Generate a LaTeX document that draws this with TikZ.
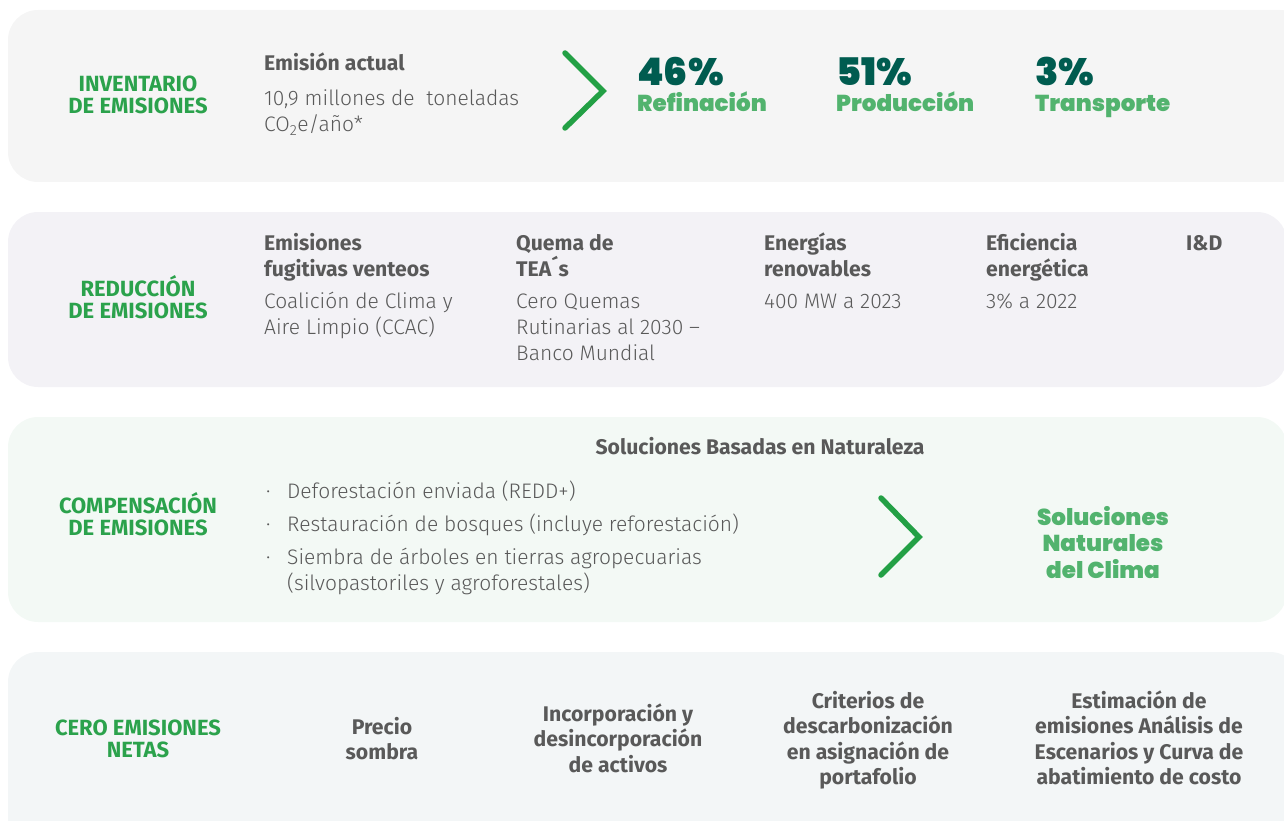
\documentclass[tikz,border=0pt]{standalone}
\usepackage{fontspec}
\setmainfont{Fira Sans}[UprightFont=* Light, BoldFont=* Bold]
\newfontfamily\fbold{Fira Sans}[UprightFont=* Bold]
\newfontfamily\heavy{Poppins}[UprightFont=* Black]
\definecolor{bandA}{HTML}{F5F5F5}
\definecolor{bandB}{HTML}{F3F2F6}
\definecolor{bandC}{HTML}{F3F9F5}
\definecolor{bandD}{HTML}{F3F6F7}
\definecolor{labgreen}{HTML}{2BA24C}
\definecolor{chevgreen}{HTML}{23A045}
\definecolor{darkteal}{HTML}{005C50}
\definecolor{lgreen}{HTML}{52B36E}
\definecolor{txtgray}{HTML}{595959}
\newcommand\mylines[6]{%
  \foreach \t [count=\i] in {#6} {\node[#5] (#1\i) at (#2,{#3+(\i-1)*#4}) {\t};}}
\tikzset{
  band/.style={rounded corners=30pt},
  lab/.style={font=\fbold\fontsize{22}{22}\selectfont, text=labgreen, inner sep=0pt, anchor=base},
  head/.style={font=\bfseries\fontsize{21.2}{21.2}\selectfont, text=txtgray, inner sep=0pt, anchor=base west},
  body/.style={font=\fontsize{21}{21}\selectfont, text=txtgray, inner sep=0pt, anchor=base west},
  chead/.style={font=\bfseries\fontsize{21.2}{21.2}\selectfont, text=txtgray, inner sep=0pt, anchor=base},
  pct/.style={font=\heavy\fontsize{38}{38}\selectfont, text=darkteal, inner sep=0pt, anchor=base west},
  pctlab/.style={font=\heavy\fontsize{23}{23}\selectfont, text=lgreen, inner sep=0pt, anchor=base west},
  snc/.style={font=\heavy\fontsize{23}{23}\selectfont, text=lgreen, inner sep=0pt, anchor=base},
  chev/.style={draw=chevgreen, line width=5.5pt, line cap=round, line join=miter}
}
\begin{document}
\begin{tikzpicture}[x=1pt,y=-1pt]
\useasboundingbox (0,0) rectangle (1284,821);
\clip (0,0) rectangle (1284,821);
% bands
\fill[bandA, band] (8,10) rectangle (1310,182);
\fill[bandB, band] (8,212) rectangle (1287,387);
\fill[bandC, band] (8,417) rectangle (1287,622);
\fill[bandD, band] (8,652) rectangle (1300,860);

% ---- band 1
\mylines{labA}{138}{92}{22}{lab}{INVENTARIO,DE EMISIONES}
\node[head] (emis) at (264,71) {Emisión actual};
\mylines{emisB}{264}{106}{26}{body}{{10,9 millones de~ toneladas},{CO\textsubscript{2}e/año*}}
\coordinate (ca1) at (565,53);
\coordinate (ca2) at (603,91);
\coordinate (ca3) at (565,128);
\draw[chev] (ca1) -- (ca2) -- (ca3);
\node[pct] (p1) at (637,86) {46\%};
\node[pctlab] (p1l) at (637,112) {Refinación};
\node[pct] (p2) at (836,86) {51\%};
\node[pctlab] (p2l) at (836,112) {Producción};
\node[pct] (p3) at (1035,86) {3\%};
\node[pctlab] (p3l) at (1035,112) {Transporte};

% ---- band 2
\mylines{labB}{138}{296}{22}{lab}{REDUCCIÓN,DE EMISIONES}
\mylines{hA}{264}{250}{26}{head}{Emisiones,fugitivas venteos}
\mylines{bA}{264}{308}{26}{body}{Coalición de Clima y,Aire Limpio (CCAC)}
\mylines{hB}{516}{250}{26}{head}{Quema de,TEA´s}
\mylines{bB}{516}{308}{26}{body}{Cero Quemas,Rutinarias al 2030 –,Banco Mundial}
\mylines{hC}{764}{250}{26}{head}{Energías,renovables}
\mylines{bC}{764}{308}{26}{body}{400 MW a 2023}
\mylines{hD}{986}{250}{26}{head}{Eficiencia,energética}
\mylines{bD}{986}{308}{26}{body}{3\% a 2022}
\node[head] (hE) at (1186,250) {I\&D};

% ---- band 3
\mylines{labC}{138}{513}{22}{lab}{COMPENSACIÓN,DE EMISIONES}
\node[chead] (sbn) at (760,454) {Soluciones Basadas en Naturaleza};
\node[body] (d1) at (266,498) {·};
\node[body] (d2) at (266,531) {·};
\node[body] (d3) at (266,564) {·};
\node[body] (t1) at (287,498) {Deforestación enviada (REDD+)};
\node[body] (t2) at (287,531) {Restauración de bosques (incluye reforestación)};
\mylines{t3}{287}{564}{26}{body}{Siembra de árboles en tierras agropecuarias,(silvopastoriles y agroforestales)}
\coordinate (cb1) at (881,498);
\coordinate (cb2) at (919,537);
\coordinate (cb3) at (881,575);
\draw[chev] (cb1) -- (cb2) -- (cb3);
\mylines{snc}{1103}{525}{26.5}{snc}{Soluciones,Naturales,del Clima}

% ---- band 4
\mylines{labD}{138}{735}{22}{lab}{CERO EMISIONES,NETAS}
\mylines{cA}{382}{734}{25.5}{chead}{Precio,sombra}
\mylines{cB}{618}{721}{25.5}{chead}{Incorporación y,desincorporación,de activos}
\mylines{cC}{868}{708}{25.5}{chead}{Criterios de,descarbonización,en asignación de,portafolio}
\mylines{cD}{1139}{708}{25.5}{chead}{Estimación de,emisiones Análisis de,Escenarios y Curva de,abatimiento de costo}
\end{tikzpicture}
\end{document}
